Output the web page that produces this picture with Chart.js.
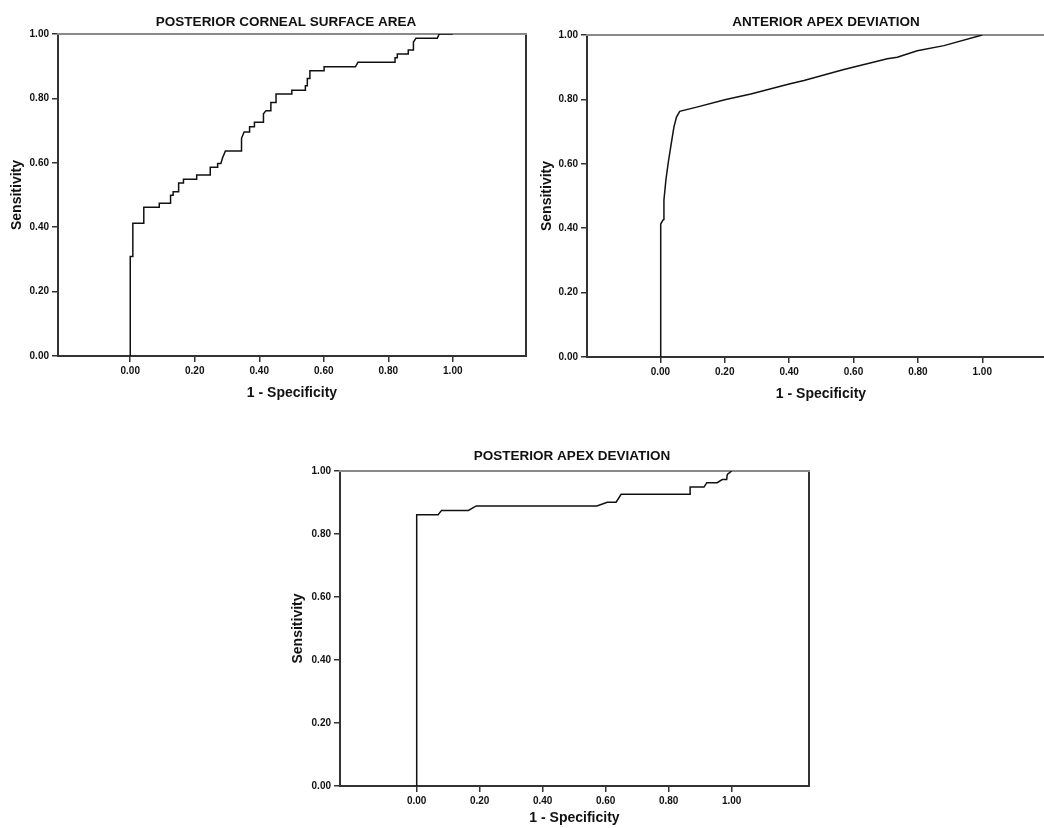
<!DOCTYPE html>
<html>
<head>
<meta charset="utf-8">
<script src="https://cdn.jsdelivr.net/npm/chart.js@4.4.1/dist/chart.umd.min.js"></script>
<style>
html,body{margin:0;padding:0;background:#fff;overflow:hidden;width:1044px;height:828px;}
.wrap{position:absolute;}
canvas{display:block;}
</style>
</head>
<body>
<div class="wrap" style="left:0px;top:0px;"><canvas id="c1" width="572" height="410"></canvas></div>
<div class="wrap" style="left:530px;top:0px;"><canvas id="c2" width="592" height="410"></canvas></div>
<div class="wrap" style="left:280px;top:440px;"><canvas id="c3" width="584" height="388"></canvas></div>
<script>
// ---------- data ----------
const chartTitles = ['POSTERIOR CORNEAL SURFACE AREA', 'ANTERIOR APEX DEVIATION', 'POSTERIOR APEX DEVIATION'];
const xAxisTitle = '1 - Specificity';
const yAxisTitle = 'Sensitivity';
const xTickValues = [0.0, 0.2, 0.4, 0.6, 0.8, 1.0];
const yTickValues = [0.0, 0.2, 0.4, 0.6, 0.8, 1.0];
const xAxisMin = [-0.224, -0.228, -0.2435];
const xAxisMax = [1.227, 1.226, 1.2454];

// Posterior corneal surface area (1 - specificity, sensitivity)
const pcsaFpr = [0, 0, 0.008, 0.008, 0.042, 0.042, 0.090, 0.090, 0.125, 0.125, 0.133, 0.133,
  0.150, 0.150, 0.165, 0.165, 0.206, 0.206, 0.248, 0.248, 0.271, 0.271, 0.281, 0.286, 0.295,
  0.345, 0.345, 0.353, 0.370, 0.370, 0.385, 0.385, 0.413, 0.413, 0.421, 0.436, 0.436, 0.452,
  0.452, 0.501, 0.501, 0.543, 0.543, 0.549, 0.549, 0.557, 0.557, 0.601, 0.601, 0.698, 0.706,
  0.821, 0.821, 0.828, 0.828, 0.862, 0.862, 0.878, 0.878, 0.886, 0.952, 0.958, 1.0];
const pcsaTpr = [0, 0.309, 0.309, 0.412, 0.412, 0.462, 0.462, 0.474, 0.474, 0.499, 0.499, 0.510,
  0.510, 0.537, 0.537, 0.549, 0.549, 0.562, 0.562, 0.586, 0.586, 0.598, 0.598, 0.615, 0.637,
  0.637, 0.676, 0.696, 0.696, 0.712, 0.712, 0.726, 0.726, 0.752, 0.762, 0.762, 0.787, 0.787,
  0.814, 0.814, 0.825, 0.825, 0.839, 0.839, 0.862, 0.862, 0.886, 0.886, 0.898, 0.898, 0.912,
  0.912, 0.926, 0.926, 0.938, 0.938, 0.950, 0.950, 0.975, 0.987, 0.987, 1.0, 1.0];

// Anterior apex deviation
const aadFpr = [0, 0.001, 0.008, 0.011, 0.011, 0.017, 0.024, 0.032, 0.042, 0.050, 0.060, 0.113,
  0.200, 0.281, 0.400, 0.446, 0.570, 0.705, 0.736, 0.798, 0.881, 1.0];
const aadTpr = [0, 0.413, 0.425, 0.427, 0.487, 0.549, 0.601, 0.652, 0.714, 0.745, 0.763, 0.776,
  0.799, 0.817, 0.848, 0.859, 0.893, 0.926, 0.931, 0.951, 0.967, 1.0];

// Posterior apex deviation
const padFpr = [0, 0, 0.068, 0.079, 0.164, 0.189, 0.572, 0.605, 0.633, 0.649, 0.868, 0.868,
  0.912, 0.921, 0.954, 0.970, 0.984, 0.986, 1.0];
const padTpr = [0, 0.861, 0.861, 0.875, 0.875, 0.889, 0.889, 0.901, 0.901, 0.926, 0.926, 0.949,
  0.949, 0.963, 0.963, 0.973, 0.973, 0.989, 1.0];

// ---------- layout (pixel geometry of each panel) ----------
const panelLayout = [
  {yW: 58, rW: 46, xH: 54, tPad: [13.9, 3.9], yTitlePad: 8.6, xTitlePad: 8.6},
  {yW: 57, rW: 67, xH: 53, tPad: [13.9, 4.9], yTitlePad: 8.6, xTitlePad: 7.6},
  {yW: 60, rW: 55, xH: 42, tPad: [8.6, 6.2], yTitlePad: 9.6, xTitlePad: 1.6}
];

const FONT = "'Liberation Sans', Arial, Helvetica, sans-serif";
const AXIS_COL = '#333333';

function makeChart(id, idx, fpr, tpr) {
  const L = panelLayout[idx];
  const pts = fpr.map((v, i) => ({x: v, y: tpr[i]}));
  return new Chart(document.getElementById(id), {
    type: 'line',
    data: {
      datasets: [{
        data: pts,
        borderColor: '#111111',
        borderWidth: 1.5,
        pointRadius: 0,
        pointHoverRadius: 0,
        fill: false,
        tension: 0
      }]
    },
    options: {
      responsive: false,
      animation: false,
      devicePixelRatio: 1,
      layout: {padding: 0},
      plugins: {
        legend: {display: false},
        tooltip: {enabled: false},
        title: {
          display: true,
          text: chartTitles[idx],
          color: '#111',
          font: {family: FONT, size: 13.5, weight: 'bold', lineHeight: 1.2},
          padding: {top: L.tPad[0], bottom: L.tPad[1]}
        }
      },
      scales: {
        x: {
          type: 'linear',
          position: 'bottom',
          min: xAxisMin[idx],
          max: xAxisMax[idx],
          afterBuildTicks: s => { s.ticks = xTickValues.map(v => ({value: v})); },
          afterFit: s => { s.height = L.xH; },
          ticks: {
            callback: v => Number(v).toFixed(2),
            color: '#111',
            font: {family: FONT, size: 10, weight: 'bold'},
            padding: 3,
            autoSkip: false,
            maxRotation: 0
          },
          grid: {display: true, drawOnChartArea: false, drawTicks: true, tickLength: 6, color: AXIS_COL, lineWidth: 1.5},
          border: {display: true, color: AXIS_COL, width: 2},
          title: {
            display: true,
            text: xAxisTitle,
            color: '#111',
            font: {family: FONT, size: 14, weight: 'bold', lineHeight: 1.2},
            padding: {top: 0, bottom: L.xTitlePad}
          }
        },
        y: {
          type: 'linear',
          position: 'left',
          min: 0,
          max: 1,
          afterBuildTicks: s => { s.ticks = yTickValues.map(v => ({value: v})); },
          afterFit: s => { s.width = L.yW; },
          ticks: {
            callback: v => Number(v).toFixed(2),
            color: '#111',
            font: {family: FONT, size: 10, weight: 'bold'},
            padding: 3,
            autoSkip: false
          },
          grid: {display: true, drawOnChartArea: false, drawTicks: true, tickLength: 6, color: AXIS_COL, lineWidth: 1.5},
          border: {display: true, color: AXIS_COL, width: 2},
          title: {
            display: true,
            text: yAxisTitle,
            color: '#111',
            font: {family: FONT, size: 14, weight: 'bold', lineHeight: 1.2},
            padding: {top: L.yTitlePad, bottom: 0}
          }
        },
        yRight: {
          type: 'linear',
          axis: 'y',
          position: 'right',
          min: 0,
          max: 1,
          afterFit: s => { s.width = L.rW; },
          ticks: {display: false},
          grid: {display: false, drawTicks: false},
          border: {display: true, color: AXIS_COL, width: 2}
        },
        xTop: {
          type: 'linear',
          axis: 'x',
          position: 'top',
          min: 0,
          max: 1,
          afterFit: s => { s.height = 0; },
          ticks: {display: false},
          grid: {display: false, drawTicks: false},
          border: {display: true, color: '#8a8a8a', width: 2}
        }
      }
    }
  });
}

makeChart('c1', 0, pcsaFpr, pcsaTpr);
makeChart('c2', 1, aadFpr, aadTpr);
makeChart('c3', 2, padFpr, padTpr);
</script>
</body>
</html>
